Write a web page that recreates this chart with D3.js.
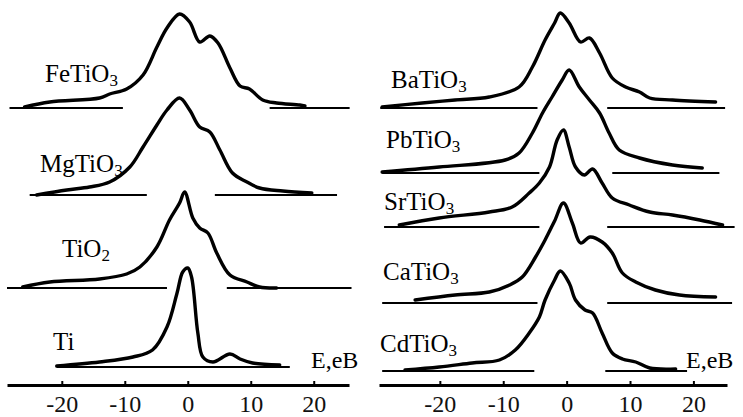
<!DOCTYPE html>
<html lang="en">
<head>
  <meta charset="UTF-8">
  <title>Ti K-beta spectra</title>
  <script src="https://d3js.org/d3.v7.min.js"></script>
  <style>
    body { margin: 0; background: #fff; }
    .spec { fill: none; stroke: #000; stroke-width: 3.4; stroke-linejoin: round; stroke-linecap: round; }
    .base { stroke: #000; stroke-width: 2.2; }
    .axis path.domain { stroke: #000; stroke-width: 3; }
    .axis line { stroke: #000; stroke-width: 2; }
  </style>
</head>
<body>
<script>
// energy (eV) vs intensity above own baseline (arb. units)
const FeTiO3 = [[-25.9,1],[-21.9,6],[-14.0,10],[-12.4,14],[-9.7,19],[-7.1,33],[-4.9,61],[-3.3,80],[-1.3,94],[0.3,86],[1.9,66],[3.5,72],[4.8,65],[6.7,40],[8.3,22],[9.8,19],[11.9,8],[14.1,5],[17.8,3],[18.6,2]];
const MgTiO3 = [[-24.0,0],[-19.2,5],[-15.6,8],[-12.4,13],[-9.2,28],[-7.1,48],[-4.9,70],[-3.3,85],[-1.3,97],[0.3,85],[1.9,68],[3.5,63],[5.1,45],[7.1,22],[9.4,13],[11.4,7],[15.1,4],[19.7,2]];
const TiO2 = [[-26.2,1],[-21.9,6],[-14.0,9],[-9.7,14],[-7.6,21],[-4.9,41],[-2.9,68],[-1.3,85],[-0.5,96],[0.8,70],[1.9,60],[3.2,55],[4.6,35],[6.7,13],[9.4,6],[11.4,1],[14.1,0]];
const Ti = [[-20.8,1],[-14.0,5],[-8.7,10],[-5.6,17],[-3.3,40],[-1.7,74],[-0.8,95],[0,99],[0.6,90],[1.6,34],[2.4,10],[4.0,5],[6.7,13],[8.3,8],[10.3,4],[14.6,2]];
const BaTiO3 = [[-29.1,1],[-22.8,5],[-17.6,8],[-12.2,11],[-7.5,21],[-5.4,41],[-3.4,68],[-1.9,85],[-1.0,95],[0.4,85],[2.2,66],[3.6,70],[5.2,55],[7.2,30],[9.3,21],[11.5,16],[13.1,10],[16.7,8],[23.5,6]];
const PbTiO3 = [[-29.1,1],[-20.1,6],[-9.7,13],[-7.5,20],[-5.4,40],[-3.8,60],[-2.3,76],[-0.7,93],[0.4,103],[2.0,86],[3.6,73],[5.2,60],[6.7,40],[8.3,23],[11.5,15],[16.7,8],[21.4,5]];
const SrTiO3 = [[-26.4,2],[-20.1,9],[-12.2,15],[-8.6,20],[-5.9,34],[-4.3,44],[-2.7,60],[-1.5,87],[-0.5,97],[0.4,80],[1.4,60],[2.8,52],[4.1,58],[5.6,44],[7.2,29],[9.9,22],[13.1,15],[16.7,12],[21.0,7],[24.6,2]];
const CaTiO3 = [[-23.9,3],[-17.6,8],[-12.2,11],[-9.0,18],[-7.0,26],[-4.9,46],[-3.4,63],[-1.9,82],[-0.5,100],[0.9,80],[2.2,60],[3.7,66],[5.6,61],[7.2,50],[8.8,30],[10.9,21],[14.0,13],[17.8,8],[23.5,6]];
const CdTiO3 = [[-25.5,1],[-20.1,4],[-14.9,8],[-10.6,11],[-8.1,21],[-5.9,38],[-4.3,54],[-3.4,71],[-1.9,91],[-1.0,100],[0.4,88],[1.4,71],[2.9,61],[4.1,58],[5.6,38],[7.2,18],[8.8,12],[10.9,9],[13.1,3],[17.2,2]];

// baseline segments (eV)
const FeBase = [[-28.3,-10.3],[13.0,25.7]];
const MgBase = [[-25.1,-6.5],[4.3,23.7]];
const TiO2Base = [[-28.7,-3.3],[6.2,26.0]];
const TiBase = [[-20.8,16.2]];
const BaBase = [[-29.4,-4.6],[6.4,25.0]];
const PbBase = [[-29.1,-4.3],[7.2,24.1]];
const SrBase = [[-28.8,-4.3],[6.4,26.5]];
const CaBase = [[-29.1,-4.6],[6.4,26.1]];
const CdBase = [[-29.1,-5.1],[6.1,19.0]];

// vertical offset of each baseline (arb. units)
const leftOffsets = [277, 190, 97, 18];
const rightOffsets = [277, 212, 158, 82, 14];

const leftNames = ["FeTiO3", "MgTiO3", "TiO2", "Ti"];
const rightNames = ["BaTiO3", "PbTiO3", "SrTiO3", "CaTiO3", "CdTiO3"];
const tickValues = [-20, -10, 0, 10, 20];
const leftExtent = [-28.7, 25.6];
const rightExtent = [-29.6, 25.3];
const unitLabel = "E,eB";

const W = 743, H = 417;
const face = '"Liberation Serif"';
const svg = d3.select("body").append("svg").attr("width", W).attr("height", H);

const yScale = d3.scaleLinear().domain([0, 385]).range([385, 0]);

const panels = [
  {
    x: d3.scaleLinear().domain(leftExtent).range([7, 349]),
    names: leftNames, offsets: leftOffsets,
    spectra: [FeTiO3, MgTiO3, TiO2, Ti],
    bases: [FeBase, MgBase, TiO2Base, TiBase],
    labels: [[45, 82], [40, 172], [62, 257], [53, 350]],
    unitPos: [311, 368]
  },
  {
    x: d3.scaleLinear().domain(rightExtent).range([379, 727]),
    names: rightNames, offsets: rightOffsets,
    spectra: [BaTiO3, PbTiO3, SrTiO3, CaTiO3, CdTiO3],
    bases: [BaBase, PbBase, SrBase, CaBase, CdBase],
    labels: [[391, 88], [386, 148], [384, 210], [383, 280], [380, 352]],
    unitPos: [686, 368]
  }
];

// text first, same pattern as a plain test page
panels.forEach(p => {
  p.names.forEach((name, i) => {
    const m = name.match(/^(.*?)(\d*)$/);
    const t = svg.append("text")
      .attr("x", p.labels[i][0]).attr("y", p.labels[i][1])
      .style("font-family", face).style("font-size", "25px");
    t.append("tspan").text(m[1]);
    if (m[2]) t.append("tspan").attr("dy", 4).style("font-size", "17px").text(m[2]);
  });

  svg.append("text")
    .attr("x", p.unitPos[0]).attr("y", p.unitPos[1])
    .style("font-family", face).style("font-size", "24px")
    .text(unitLabel);
});

panels.forEach(p => {
  const g = svg.append("g");

  p.spectra.forEach((pts, i) => {
    const off = p.offsets[i];

    p.bases[i].forEach(seg => {
      g.append("line").attr("class", "base")
        .attr("x1", p.x(seg[0])).attr("x2", p.x(seg[1]))
        .attr("y1", yScale(off)).attr("y2", yScale(off));
    });

    const line = d3.line()
      .x(d => p.x(d[0]))
      .y(d => yScale(off + d[1]))
      .curve(d3.curveCatmullRom.alpha(0.5));

    g.append("path").attr("class", "spec").attr("d", line(pts));
  });

  const ax = svg.append("g").attr("class", "axis")
    .attr("transform", "translate(0,385)")
    .call(d3.axisBottom(p.x).tickValues(tickValues).tickSizeInner(-4).tickSizeOuter(0)
      .tickFormat(d => String(d)));
  ax.selectAll(".tick text").attr("y", 27).attr("dy", 0).attr("fill", "#111")
    .style("font-family", face).style("font-size", "24px");
});
</script>
</body>
</html>
